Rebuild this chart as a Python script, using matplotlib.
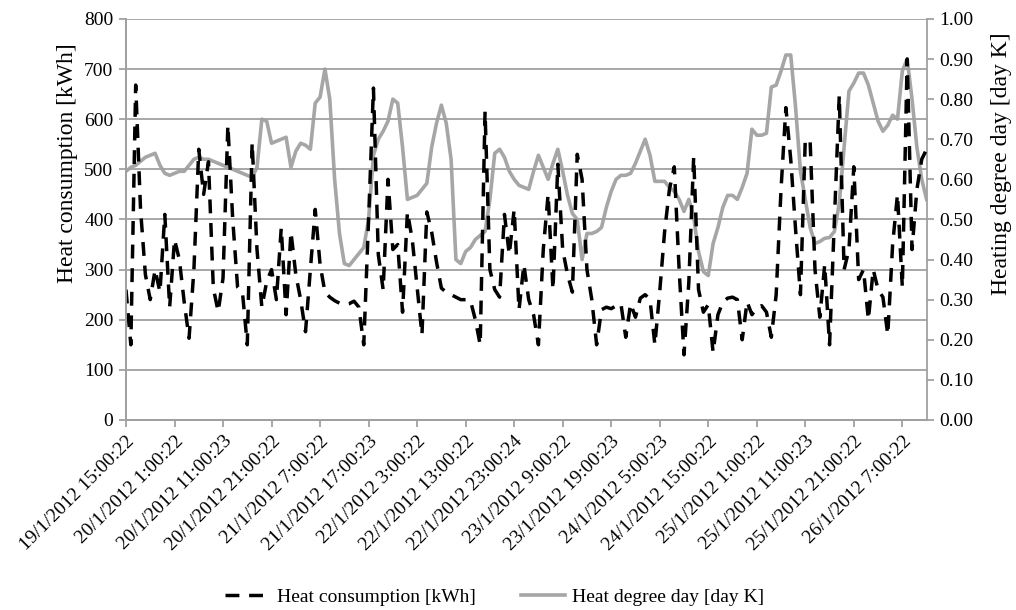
import numpy as np
import matplotlib
matplotlib.use('Agg')
import matplotlib.pyplot as plt

plt.rcParams['font.family'] = ['Liberation Serif', 'DejaVu Serif']

# hourly heat consumption [kWh]
heat = [260, 150, 668, 420, 290, 240, 300, 255, 410, 225,
        360, 320, 235, 163, 300, 540, 450, 515, 263, 216,
        283, 588, 400, 265, 255, 150, 553, 340, 225, 276,
        300, 240, 383, 210, 375, 290, 240, 176, 300, 420,
        310, 255, 245, 238, 233, 230, 232, 237, 225, 150,
        400, 662, 330, 260, 480, 340, 350, 215, 415, 360,
        265, 170, 415, 375, 315, 263, 255, 250, 245, 240,
        240, 238, 200, 150, 615, 300, 260, 245, 410, 330,
        420, 220, 310, 240, 210, 150, 340, 450, 260, 510,
        340, 290, 255, 530, 480, 300, 240, 150, 220, 225,
        222, 228, 232, 165, 232, 205, 243, 250, 240, 150,
        256, 375, 460, 505, 300, 130, 275, 525, 260, 215,
        230, 135, 210, 235, 243, 245, 240, 160, 236, 210,
        223, 228, 215, 165, 250, 460, 623, 520, 380, 250,
        560, 555, 300, 205, 310, 150, 400, 647, 300, 340,
        505, 280, 300, 200, 300, 260, 245, 170, 350, 450,
        265, 720, 340, 460, 520, 540]

# heating degree day [day K]
hdd = [0.62, 0.63, 0.635, 0.645, 0.655, 0.66, 0.665, 0.635, 0.615, 0.61,
       0.615, 0.62, 0.62, 0.635, 0.65, 0.655, 0.65, 0.65, 0.645, 0.64,
       0.635, 0.63, 0.625, 0.62, 0.615, 0.61, 0.605, 0.63, 0.75, 0.745,
       0.69, 0.695, 0.70, 0.705, 0.63, 0.67, 0.69, 0.685, 0.675, 0.79,
       0.805, 0.875, 0.80, 0.60, 0.465, 0.39, 0.385, 0.40, 0.415, 0.43,
       0.50, 0.66, 0.70, 0.72, 0.745, 0.80, 0.79, 0.68, 0.55, 0.555,
       0.56, 0.575, 0.59, 0.68, 0.74, 0.785, 0.74, 0.65, 0.40, 0.39,
       0.42, 0.43, 0.45, 0.46, 0.47, 0.55, 0.665, 0.675, 0.655, 0.62,
       0.60, 0.585, 0.58, 0.575, 0.62, 0.66, 0.63, 0.60, 0.64, 0.675,
       0.62, 0.56, 0.515, 0.50, 0.40, 0.465, 0.465, 0.47, 0.48, 0.53,
       0.57, 0.60, 0.61, 0.61, 0.615, 0.64, 0.67, 0.70, 0.66, 0.595,
       0.595, 0.595, 0.58, 0.57, 0.55, 0.52, 0.55, 0.505, 0.42, 0.37,
       0.36, 0.44, 0.48, 0.53, 0.56, 0.56, 0.55, 0.58, 0.615, 0.725,
       0.71, 0.71, 0.715, 0.83, 0.835, 0.87, 0.91, 0.91, 0.78, 0.62,
       0.55, 0.48, 0.44, 0.445, 0.453, 0.455, 0.47, 0.54, 0.68, 0.82,
       0.84, 0.865, 0.865, 0.835, 0.79, 0.745, 0.72, 0.735, 0.76, 0.75,
       0.87, 0.90, 0.80, 0.68, 0.60, 0.55]

tick_labels = ['19/1/2012 15:00:22', '20/1/2012 1:00:22', '20/1/2012 11:00:23',
               '20/1/2012 21:00:22', '21/1/2012 7:00:22', '21/1/2012 17:00:23',
               '22/1/2012 3:00:22', '22/1/2012 13:00:22', '22/1/2012 23:00:24',
               '23/1/2012 9:00:22', '23/1/2012 19:00:23', '24/1/2012 5:00:23',
               '24/1/2012 15:00:22', '25/1/2012 1:00:22', '25/1/2012 11:00:23',
               '25/1/2012 21:00:22', '26/1/2012 7:00:22']

grey = '#a6a6a6'
axcol = '#a0a0a0'
fs = 14

x = np.arange(len(heat))

fig = plt.figure(figsize=(10.16, 6.10), dpi=100)
ax = fig.add_axes([0.124, 0.3115, 0.788, 0.6575])
ax2 = ax.twinx()

ax2.plot(x, hdd, color=grey, lw=2.6, solid_joinstyle='round',
         label='Heat degree day [day K]')
ax.plot(x, heat, color='black', lw=2.5, dashes=(4, 2.8),
        label='Heat consumption [kWh]')

# dashed series drawn above the grey one
ax.set_zorder(ax2.get_zorder() + 1)
ax.patch.set_visible(False)

ax.set_xlim(0, len(heat) - 1)
ax.set_ylim(0, 800)
ax2.set_ylim(0, 1.0)
ax.set_yticks(np.arange(0, 801, 100))
ax2.set_yticks(np.arange(0, 1.01, 0.1))
ax2.set_yticklabels([f'{v:.2f}' for v in np.arange(0, 1.01, 0.1)], fontsize=fs)
ax.set_yticklabels([str(v) for v in range(0, 801, 100)], fontsize=fs)

ax.set_xticks(np.arange(0, len(heat), 10))
ax.set_xticklabels(tick_labels, rotation=45, ha='right', rotation_mode='anchor',
                   fontsize=fs)

ax.yaxis.grid(True, color=axcol, lw=1.3)
ax.set_axisbelow(True)

for a in (ax, ax2):
    a.spines['top'].set_visible(False)
    for s in ('left', 'right', 'bottom'):
        a.spines[s].set_color(axcol)
        a.spines[s].set_linewidth(1.3)
    a.tick_params(color=axcol, width=1.3, length=5, direction='out', pad=4)
ax.spines['right'].set_visible(False)

ax.set_ylabel('Heat consumption [kWh]', fontsize=17)
ax2.set_ylabel('Heating degree day [day K]', fontsize=17, rotation=90)
ax.yaxis.set_label_coords(-0.06, 0.64)
ax2.yaxis.set_label_coords(1.08, 0.64)

h1, l1 = ax.get_legend_handles_labels()
h2, l2 = ax2.get_legend_handles_labels()
fig.legend(h1 + h2, l1 + l2, loc='center', bbox_to_anchor=(0.487, 0.021),
           ncol=2, frameon=False, fontsize=fs, handlelength=2.3,
           handletextpad=0.35, columnspacing=2.3)

fig.savefig('out.png', dpi=100)
